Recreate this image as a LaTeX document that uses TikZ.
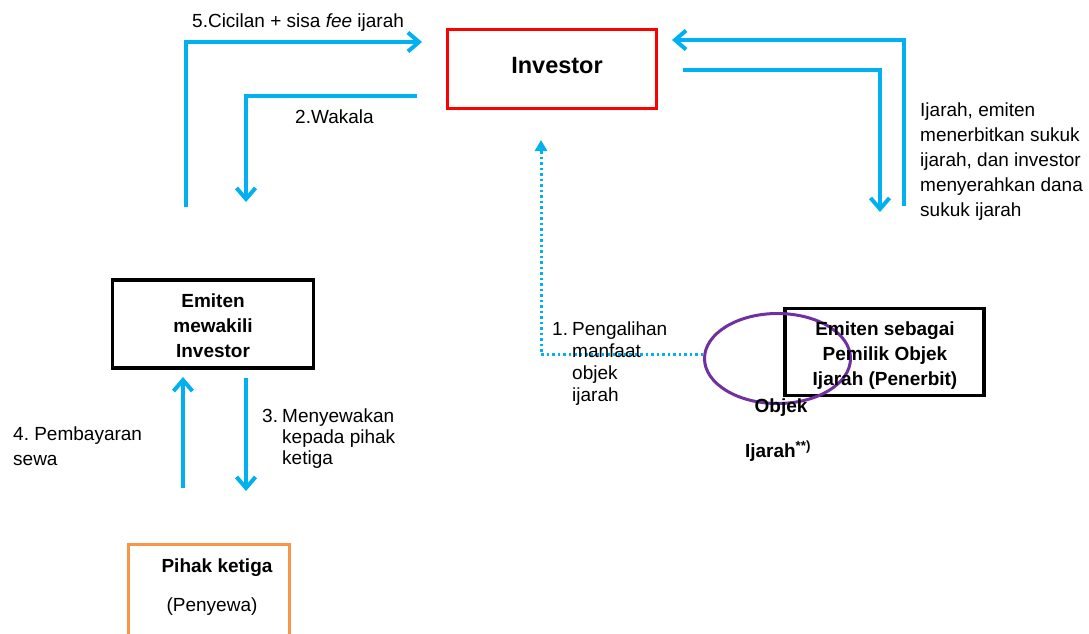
\documentclass[tikz,border=0pt]{standalone}
\usepackage{fontspec}
\setmainfont{Liberation Sans}
\usetikzlibrary{arrows.meta,shapes.geometric}
\definecolor{flowblue}{HTML}{00B0F0}
\definecolor{boxred}{HTML}{FF0000}
\definecolor{boxorange}{HTML}{F79646}
\definecolor{ovalpurple}{HTML}{7030A0}
\frenchspacing
\begin{document}
\begin{tikzpicture}[x=1pt,y=-1pt,
  box/.style={draw, rectangle, inner sep=0pt, line width=3pt},
  txt/.style={font=\fontsize{19}{25}\selectfont, inner sep=0pt, align=left, anchor=base west},
  btxt/.style={font=\fontsize{19}{25}\selectfont\bfseries, inner sep=0pt, align=center, anchor=base},
  flow/.style={draw=flowblue, line width=4pt, -{Straight Barb[length=11pt,width=19pt,line width=4pt]}},
  dotflow/.style={draw=flowblue, line width=3pt, dash pattern=on 2.5pt off 3pt, -{Triangle[length=11pt,width=12pt]}}]
\useasboundingbox (0,0) rectangle (1089,633);
\clip (0,0) rectangle (1089,633);

% boxes
\node[box, draw=boxred, minimum width=209pt, minimum height=79pt] (investor) at (552,69) {};
\node[box, line width=3.5pt, minimum width=201pt, minimum height=88pt] (wakil) at (213,324) {};
\node[box, line width=3.5pt, minimum width=199pt, minimum height=87pt] (pemilik) at (884.5,352) {};
\node[box, draw=boxorange, minimum width=161pt, minimum height=120pt] (pihak) at (209,604) {};

% object oval
\node[draw=ovalpurple, ellipse, line width=3pt, inner sep=0pt, minimum width=146pt, minimum height=90pt] (oval) at (777.5,358.5) {};

% box texts (multi-line nodes sit on the baseline of their last line)
\node[btxt, font=\fontsize{23.5}{28}\selectfont\bfseries] (tinv) at (557,73) {Investor};
\node[btxt] (twakil) at (213,357) {Emiten\\mewakili\\Investor};
\node[btxt] (tpemilik) at (885,385) {Emiten sebagai\\Pemilik Objek\\Ijarah (Penerbit)};
\node[btxt] (tobjek) at (781,412) {Objek};
\node[btxt] (tijarah) at (778,457) {Ijarah\textsuperscript{**)}};
\node[btxt] (tpihak) at (217,572) {Pihak ketiga};
\node[btxt, font=\fontsize{19}{25}\selectfont] (tpenyewa) at (212,611) {(Penyewa)};

% connector ends
\coordinate (c5s) at (186,207);
\coordinate (c5e) at (422,42);
\coordinate (w2s) at (417,96);
\coordinate (w2e) at (246,202);
\coordinate (r1s) at (904,206);
\coordinate (r1e) at (672,40);
\coordinate (r2s) at (683,70);
\coordinate (r2e) at (880,212);
\coordinate (p4s) at (183,488);
\coordinate (p4e) at (183,377);
\coordinate (m3s) at (246,378);
\coordinate (m3e) at (246,491);
\coordinate (d1e) at (541,140);

% flows
\draw[flow] (c5s) |- (c5e);
\draw[flow] (w2s) -| (w2e);
\draw[flow] (r1s) |- (r1e);
\draw[flow] (r2s) -| (r2e);
\draw[flow] (p4s) -- (p4e);
\draw[flow] (m3s) -- (m3e);
\draw[dotflow] ([yshift=4pt]oval.west) -| (d1e);

% labels
\node[txt] (l5) at (192,27) {5.Cicilan + sisa \textit{fee} ijarah};
\node[txt] (l2) at (295,123) {2.Wakala};
\node[txt] (lr) at (920,216) {Ijarah, emiten\\menerbitkan sukuk\\ijarah, dan investor\\menyerahkan dana\\sukuk ijarah};
\node[txt] (l1n) at (552,335) {1.};
\node[txt, font=\fontsize{19}{22}\selectfont] (l1) at (572,401) {Pengalihan\\manfaat\\objek\\ijarah};
\node[txt] (l4) at (13,465) {4. Pembayaran\\sewa};
\node[txt] (l3n) at (262,422) {3.};
\node[txt, font=\fontsize{19}{21}\selectfont] (l3) at (282,464) {Menyewakan\\kepada pihak\\ketiga};
\end{tikzpicture}
\end{document}
